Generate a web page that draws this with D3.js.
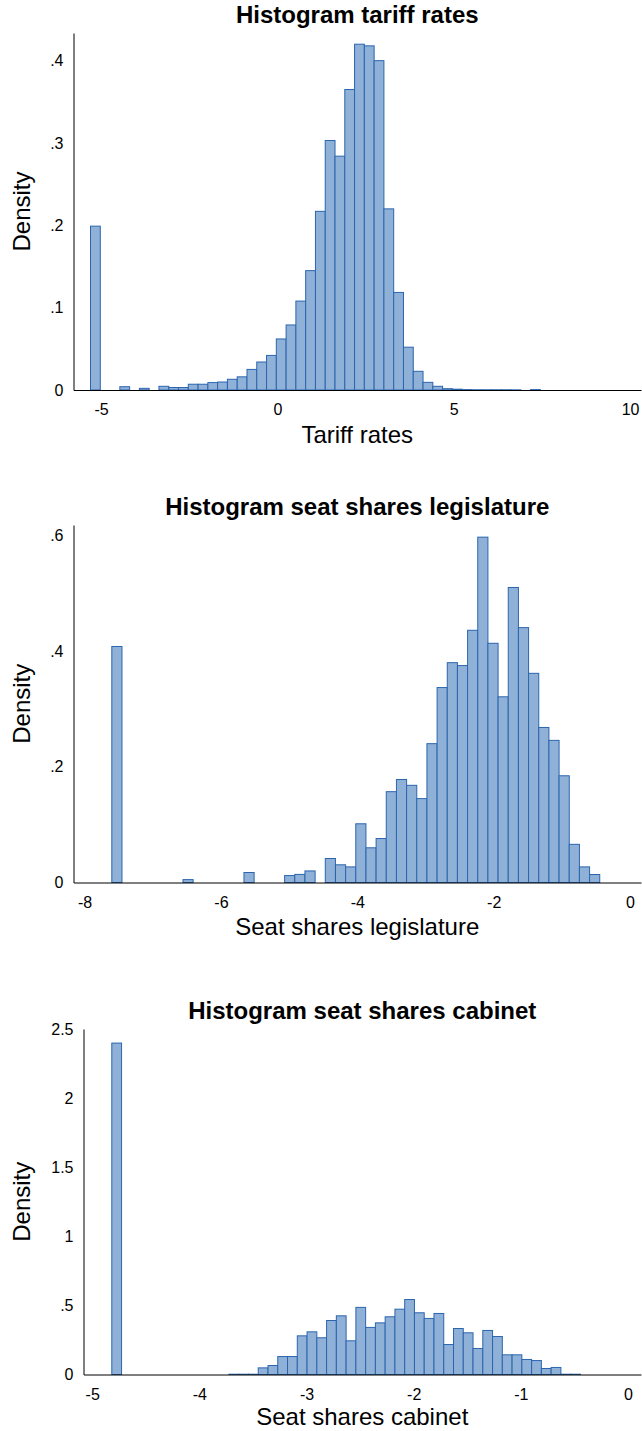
<!DOCTYPE html>
<html>
<head>
<meta charset="utf-8">
<script src="https://cdn.jsdelivr.net/npm/d3@7"></script>
<style>
  body { margin: 0; background: #fff; }
  text { font-family: "Liberation Sans", Arial, sans-serif; fill: #000; }
</style>
</head>
<body>
<div id="my_dataviz"></div>
<script>

// tariff rates (log), 46 bins
var tariffStart = -5.298, tariffWidth = 0.2773;
var tariffDensity = [0.199, 0, 0, 0.004, 0, 0.002, 0, 0.0045, 0.003, 0.003,
  0.007, 0.007, 0.009, 0.0097, 0.013, 0.016, 0.025, 0.034, 0.042, 0.062,
  0.079, 0.108, 0.145, 0.217, 0.303, 0.284, 0.365, 0.42, 0.418, 0.40,
  0.22, 0.1185, 0.052, 0.0227, 0.0093, 0.0045, 0.0016, 0.001, 0.0005, 0.0003,
  0.0003, 0.0003, 0.0003, 0.0002, 0, 0.0005];
var tariffXTicks = [-5, 0, 5, 10];
var tariffYTicks = [0, 0.1, 0.2, 0.3, 0.4];
var tariffYLabels = ["0", ".1", ".2", ".3", ".4"];

// seat shares legislature (log), 48 bins
var legisStart = -7.601, legisWidth = 0.1491;
var legisDensity = [0.408, 0, 0, 0, 0, 0, 0, 0.005, 0, 0,
  0, 0, 0, 0.0173, 0, 0, 0, 0.012, 0.014, 0.020,
  0, 0.0415, 0.0306, 0.027, 0.1015, 0.060, 0.076, 0.157, 0.178, 0.168,
  0.145, 0.240, 0.337, 0.380, 0.375, 0.436, 0.597, 0.4135, 0.321, 0.510,
  0.4406, 0.3616, 0.268, 0.2457, 0.1845, 0.066, 0.027, 0.0138];
var legisXTicks = [-8, -6, -4, -2, 0];
var legisYTicks = [0, 0.2, 0.4, 0.6];
var legisYLabels = ["0", ".2", ".4", ".6"];

// seat shares cabinet (log), 48 bins
var cabinetStart = -4.817, cabinetWidth = 0.0911;
var cabinetDensity = [2.40, 0, 0, 0, 0, 0, 0, 0, 0, 0,
  0, 0, 0.002, 0.002, 0.002, 0.048, 0.065, 0.130, 0.130, 0.280,
  0.309, 0.266, 0.391, 0.425, 0.244, 0.486, 0.341, 0.374, 0.418, 0.473,
  0.543, 0.447, 0.406, 0.442, 0.217, 0.333, 0.302, 0.188, 0.319, 0.275,
  0.1425, 0.1425, 0.109, 0.101, 0.0435, 0.051, 0.002, 0.002];
var cabinetXTicks = [-5, -4, -3, -2, -1, 0];
var cabinetYTicks = [0, 0.5, 1, 1.5, 2, 2.5];
var cabinetYLabels = ["0", ".5", "1", "1.5", "2", "2.5"];

var svg = d3.select("#my_dataviz")
  .append("svg")
    .attr("width", 642)
    .attr("height", 1431);

function histogram(o) {
  var x = d3.scaleLinear().domain(o.xDomain).range([o.left, 641]);
  var y = d3.scaleLinear().domain(o.yDomain).range([o.bottom, o.top]);

  var bins = o.density.map(function(d, i) {
    return { x0: o.start + i * o.width, x1: o.start + (i + 1) * o.width, d: d };
  }).filter(function(b) { return b.d > 0; });

  var g = svg.append("g");

  // bars
  g.selectAll("rect")
    .data(bins)
    .enter()
    .append("rect")
      .attr("x", function(b) { return x(b.x0); })
      .attr("width", function(b) { return x(b.x1) - x(b.x0); })
      .attr("y", function(b) { return y(b.d); })
      .attr("height", function(b) { return y(0) - y(b.d); })
      .attr("fill", "#8fb1d8")
      .attr("stroke", "#2b65ae")
      .attr("stroke-width", 1);

  // X axis
  var xa = g.append("g")
    .attr("transform", "translate(0," + o.bottom + ")")
    .call(d3.axisBottom(x).tickValues(o.xTicks).tickSize(0).tickSizeOuter(0).tickPadding(14)
      .tickFormat(function(d) { return d3.format("d")(d).replace("−", "-"); }));
  xa.select(".domain").attr("stroke", "#000");
  xa.selectAll("text").style("font-size", "16px").attr("fill", "#000");

  // Y axis
  var ya = g.append("g")
    .attr("transform", "translate(" + o.left + ",0)")
    .call(d3.axisLeft(y).tickValues(o.yTicks).tickSize(0).tickSizeOuter(0).tickPadding(10)
      .tickFormat(function(d, i) { return o.yLabels[i]; }));
  ya.select(".domain").attr("stroke", "#000");
  ya.selectAll("text").style("font-size", "16px").attr("fill", "#000");

  // title
  g.append("text")
    .attr("x", (o.left + 641) / 2)
    .attr("y", o.top - 10)
    .attr("text-anchor", "middle")
    .style("font-size", "24px")
    .style("font-weight", "bold")
    .text(o.title);

  // x label
  g.append("text")
    .attr("x", (o.left + 641) / 2)
    .attr("y", o.bottom + o.xLabelGap)
    .attr("text-anchor", "middle")
    .style("font-size", "24px")
    .text(o.xLabel);

  // y label
  g.append("text")
    .attr("transform", "translate(30," + ((o.top + o.bottom) / 2) + ")rotate(-90)")
    .attr("text-anchor", "middle")
    .style("font-size", "24px")
    .text("Density");
}

histogram({
  title: "Histogram tariff rates", xLabel: "Tariff rates",
  start: tariffStart, width: tariffWidth, density: tariffDensity,
  xTicks: tariffXTicks, yTicks: tariffYTicks, yLabels: tariffYLabels,
  xDomain: [-5.78, 10.31], yDomain: [0, 0.4336],
  left: 73.5, top: 33, bottom: 390, xLabelGap: 53
});

histogram({
  title: "Histogram seat shares legislature", xLabel: "Seat shares legislature",
  start: legisStart, width: legisWidth, density: legisDensity,
  xTicks: legisXTicks, yTicks: legisYTicks, yLabels: legisYLabels,
  xDomain: [-8.163, 0.161], yDomain: [0, 0.618],
  left: 73.5, top: 525, bottom: 882.5, xLabelGap: 52
});

histogram({
  title: "Histogram seat shares cabinet", xLabel: "Seat shares cabinet",
  start: cabinetStart, width: cabinetWidth, density: cabinetDensity,
  xTicks: cabinetXTicks, yTicks: cabinetYTicks, yLabels: cabinetYLabels,
  xDomain: [-5.081, 0.121], yDomain: [0, 2.502],
  left: 83.5, top: 1029, bottom: 1374.5, xLabelGap: 50
});

</script>
</body>
</html>
